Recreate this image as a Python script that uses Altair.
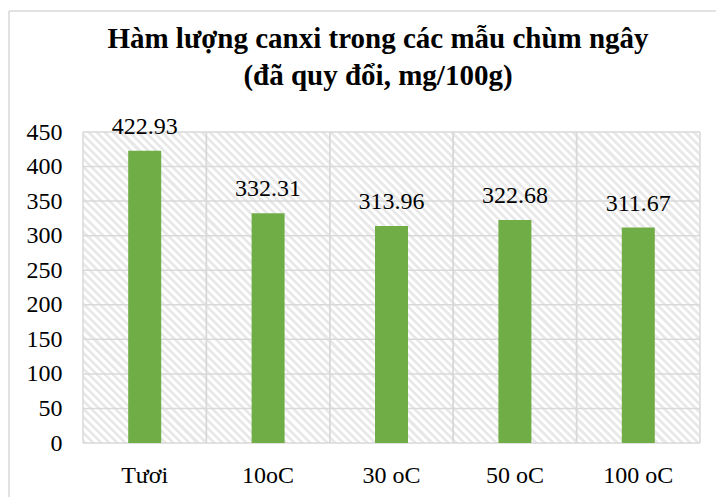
import altair as alt
import pandas as pd

# ---- data ----
categories = ["Tươi", "10oC", "30 oC", "50 oC", "100 oC"]
values = [422.93, 332.31, 313.96, 322.68, 311.67]
y_ticks = [0, 50, 100, 150, 200, 250, 300, 350, 400, 450]
title_lines = ["Hàm lượng canxi trong các mẫu chùm ngây", "(đã quy đổi, mg/100g)"]

# ---- layout / style ----
W, H = 617, 311
FONT = "Liberation Serif"
GRID = "#d9d9d9"
BAR = "#70AD47"
STRIPE = "#e9e9e9"
FS = 24

df = pd.DataFrame({"cat": categories, "val": values})
ticks_df = pd.DataFrame({"v": y_ticks})
one = pd.DataFrame({"k": [0]})

x_scale = alt.Scale(domain=categories, paddingInner=0, paddingOuter=0)
y_scale = alt.Scale(domain=[0, 450], nice=False, zero=True)

x_axis = alt.Axis(
    title=None, labelAngle=0, domain=False, ticks=False, grid=False,
    labelPadding=20, labelFontSize=FS, labelFont=FONT, labelColor="#000000",
)
y_axis = alt.Axis(
    title=None, values=y_ticks, domain=False, ticks=False, grid=False,
    labelPadding=21, labelFontSize=FS, labelFont=FONT, labelColor="#000000",
)

# diagonal hatch as a hard-stop linear gradient (45 degree stripes)
r = H / W
k = (1 + r) / (1 + r * r)
n_stripes = 115
duty = 0.5
stops = []
for i in range(n_stripes):
    a = round(i / n_stripes, 6)
    b = round((i + duty) / n_stripes, 6)
    c = round((i + 1) / n_stripes, 6)
    stops += [
        alt.GradientStop(offset=a, color=STRIPE),
        alt.GradientStop(offset=b, color=STRIPE),
        alt.GradientStop(offset=b, color="#ffffff"),
        alt.GradientStop(offset=c, color="#ffffff"),
    ]
hatch_fill = alt.LinearGradient(
    gradient="linear", stops=stops, x1=0, y1=1, x2=round(k, 4), y2=round(1 - k * r, 4)
)

hatch = alt.Chart(one).mark_rect(fill=hatch_fill, strokeWidth=0).encode(
    x=alt.value(0), x2=alt.value(W), y=alt.value(0), y2=alt.value(H)
)

hgrid = alt.Chart(ticks_df).mark_rule(color=GRID, strokeWidth=1.5).encode(
    y=alt.Y("v:Q", scale=y_scale, axis=y_axis)
)
vgrid0 = alt.Chart(df).mark_rule(color=GRID, strokeWidth=1.5).encode(
    x=alt.X("cat:N", scale=x_scale, sort=categories, bandPosition=0, axis=x_axis)
)
vgrid1 = alt.Chart(df).mark_rule(color=GRID, strokeWidth=1.5).encode(
    x=alt.X("cat:N", scale=x_scale, sort=categories, bandPosition=1, axis=x_axis)
)

bars = alt.Chart(df).mark_bar(size=33, color=BAR).encode(
    x=alt.X("cat:N", scale=x_scale, sort=categories, axis=x_axis),
    y=alt.Y("val:Q", scale=y_scale, axis=y_axis),
)

labels = alt.Chart(df).mark_text(
    dy=-17, baseline="alphabetic", fontSize=FS, font=FONT, color="#000000"
).encode(
    x=alt.X("cat:N", scale=x_scale, sort=categories, axis=x_axis),
    y=alt.Y("val:Q", scale=y_scale, axis=y_axis),
    text=alt.Text("val:Q", format=".2f"),
)

title = alt.Chart(one).mark_text(
    text=title_lines, font=FONT, fontSize=29, fontWeight="bold", color="#000000",
    lineHeight=37, align="center", baseline="alphabetic",
).encode(x=alt.value(295), y=alt.value(-84))

border_top = alt.Chart(one).mark_rule(color=GRID, strokeWidth=1.5).encode(
    x=alt.value(-74), x2=alt.value(W + 40), y=alt.value(-121)
)
border_left = alt.Chart(one).mark_rule(color=GRID, strokeWidth=1.5).encode(
    x=alt.value(-74), y=alt.value(-121), y2=alt.value(H + 80)
)

chart = alt.layer(
    hatch, hgrid, vgrid0, vgrid1, bars, labels, border_top, border_left, title
).properties(
    width=W,
    height=H,
    autosize=alt.AutoSizeParams(type="none"),
    padding={"left": 83, "top": 132, "right": 16, "bottom": 54},
).configure_view(strokeWidth=0)

chart.save("out.html", embed_options={"renderer": "svg", "actions": False})
